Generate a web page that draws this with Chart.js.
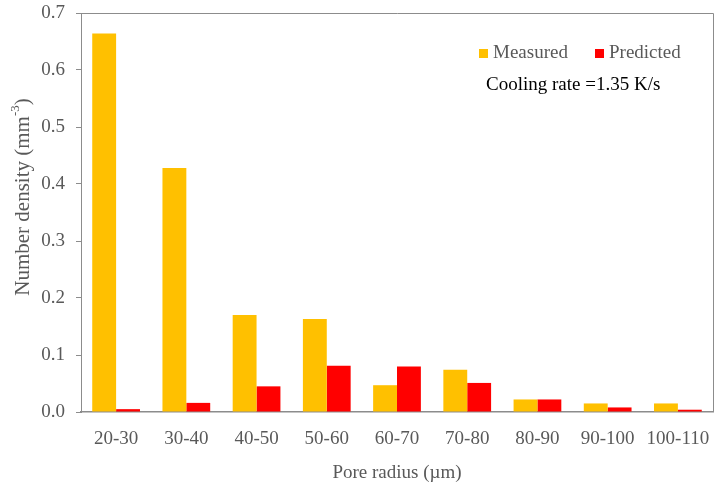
<!DOCTYPE html>
<html>
<head>
<meta charset="utf-8">
<script src="https://cdn.jsdelivr.net/npm/chart.js@4.4.0/dist/chart.umd.min.js"></script>
<style>
  html, body { margin: 0; padding: 0; background: #fff; }
  #wrap { width: 723px; height: 484px; }
</style>
</head>
<body>
<div id="wrap"><canvas id="chart" width="723" height="484"></canvas></div>
<script>
const radiusBins = ['20-30', '30-40', '40-50', '50-60', '60-70', '70-80', '80-90', '90-100', '100-110'];
const measured = [0.664, 0.428, 0.170, 0.163, 0.047, 0.074, 0.022, 0.015, 0.015];
const predicted = [0.005, 0.016, 0.045, 0.081, 0.080, 0.051, 0.022, 0.008, 0.004];
const yTicks = [0, 0.1, 0.2, 0.3, 0.4, 0.5, 0.6, 0.7];

const FONT = '"Liberation Serif", "Times New Roman", serif';
const GREY = '#595959';
const AXIS = '#8c8c8c';

// box frame, y title with superscript, legend and the cooling-rate note
const decorations = {
  id: 'decorations',
  afterDraw(chart) {
    const { ctx, chartArea: a } = chart;
    ctx.save();
    ctx.strokeStyle = AXIS;
    ctx.lineWidth = 1;
    ctx.beginPath();
    ctx.moveTo(a.left, a.top + 0.5);
    ctx.lineTo(a.right + 0.5, a.top + 0.5);
    ctx.lineTo(a.right + 0.5, a.bottom);
    ctx.stroke();

    // y axis title
    ctx.translate(23, 197);
    ctx.rotate(-Math.PI / 2);
    ctx.fillStyle = GREY;
    ctx.textBaseline = 'middle';
    const main = 'Number density (mm';
    ctx.font = '21px ' + FONT;
    const w1 = ctx.measureText(main).width;
    ctx.font = '13px ' + FONT;
    const w2 = ctx.measureText('-3').width;
    ctx.font = '21px ' + FONT;
    const w3 = ctx.measureText(')').width;
    let x = -(w1 + w2 + w3) / 2;
    ctx.textAlign = 'left';
    ctx.fillText(main, x, 0);
    x += w1;
    ctx.font = '13px ' + FONT;
    ctx.fillText('-3', x, -7);
    x += w2;
    ctx.font = '21px ' + FONT;
    ctx.fillText(')', x, 0);
    ctx.restore();

    // legend
    ctx.save();
    ctx.font = '19px ' + FONT;
    ctx.textBaseline = 'middle';
    ctx.textAlign = 'left';
    const legendX = [479, 595];
    chart.data.datasets.forEach((ds, i) => {
      ctx.fillStyle = ds.backgroundColor;
      ctx.fillRect(legendX[i], 49, 9, 9);
      ctx.fillStyle = GREY;
      ctx.fillText(ds.label, legendX[i] + 14, 53);
    });
    ctx.fillStyle = '#000';
    ctx.fillText('Cooling rate =1.35 K/s', 486, 85);
    ctx.restore();
  }
};

new Chart(document.getElementById('chart'), {
  type: 'bar',
  data: {
    labels: radiusBins,
    datasets: [
      { label: 'Measured', data: measured, backgroundColor: '#FFC000', barPercentage: 1, categoryPercentage: 0.68 },
      { label: 'Predicted', data: predicted, backgroundColor: '#FF0000', barPercentage: 1, categoryPercentage: 0.68 }
    ]
  },
  options: {
    responsive: false,
    animation: false,
    layout: { padding: { left: 0, top: 13, right: 10, bottom: 0 } },
    plugins: { legend: { display: false }, tooltip: { enabled: false } },
    scales: {
      x: {
        grid: { display: false },
        border: { display: true, color: AXIS, width: 1.5 },
        ticks: { color: GREY, font: { family: FONT, size: 19 }, padding: 8, maxRotation: 0 },
        title: { display: true, text: 'Pore radius (\u00b5m)', color: GREY, font: { family: FONT, size: 19 }, padding: { top: 3, bottom: 0 } },
        afterFit(scale) {
          scale.height = 72;
          scale.paddingLeft = 0;
          scale.paddingRight = 0;
        }
      },
      y: {
        min: 0,
        max: 0.7,
        afterBuildTicks(scale) { scale.ticks = yTicks.map(v => ({ value: v })); },
        grid: { drawOnChartArea: false, drawTicks: true, tickLength: 5, color: AXIS },
        border: { display: true, color: AXIS, width: 1 },
        ticks: { color: GREY, font: { family: FONT, size: 19 }, padding: 11, callback: v => Number(v).toFixed(1) },
        afterFit(scale) {
          scale.width = 81;
          scale.paddingTop = 0;
          scale.paddingBottom = 0;
        }
      }
    }
  },
  plugins: [decorations]
});
</script>
</body>
</html>
